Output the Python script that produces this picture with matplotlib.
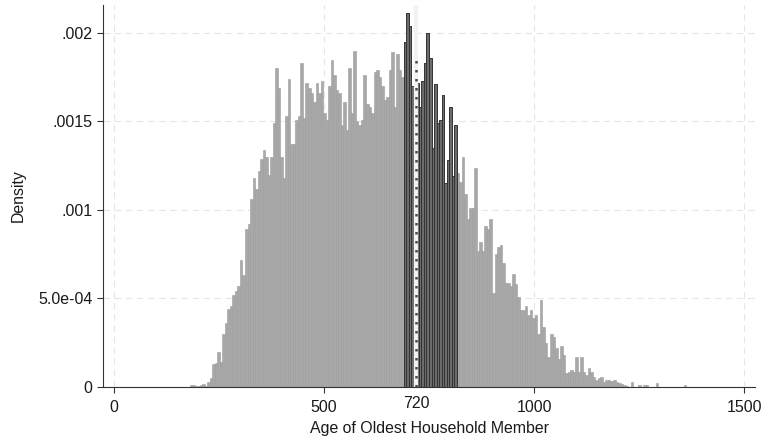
import matplotlib
matplotlib.use("Agg")
import matplotlib.pyplot as plt
import numpy as np

# ---- data ----
bin_start = 180
bin_width = 6
# density values (x 1e-4) per bin
density_e4 = [
    0.1, 0.1, 0.05, 0.05, 0.1, 0.15, 0.05, 0.3, 0.5, 1.3,
    1.35, 1.95, 1.4, 3.0, 3.6, 4.4, 4.6, 5.2, 5.4, 5.7,
    7.2, 6.3, 8.9, 9.2, 10.6, 11.8, 11.2, 12.2, 12.9, 13.4,
    13.0, 12.0, 13.0, 14.9, 18.0, 16.9, 13.0, 11.8, 15.3, 17.4,
    13.7, 13.7, 15.1, 15.3, 18.3, 15.2, 17.2, 16.9, 16.6, 16.1,
    17.2, 16.6, 17.3, 15.5, 15.1, 17.0, 18.5, 17.6, 16.8, 16.6,
    14.8, 16.1, 14.5, 18.0, 15.5, 19.0, 15.0, 14.8, 15.1, 17.6,
    16.0, 15.8, 15.5, 17.8, 17.9, 17.5, 17.0, 16.2, 16.4, 17.9,
    18.9, 15.8, 18.8, 17.9, 17.5, 19.5, 21.1, 20.4, 17.0, 17.0,
    17.2, 15.8, 17.3, 18.3, 20.0, 18.6, 13.5, 17.1, 14.9, 15.1,
    16.5, 11.5, 12.8, 15.8, 11.9, 14.8, 12.1, 11.6, 13.0, 10.9,
    9.5, 10.1, 10.1, 12.4, 7.7, 8.2, 7.7, 9.1, 8.9, 9.5,
    5.3, 7.5, 7.9, 8.0, 7.0, 5.9, 5.9, 5.7, 6.4, 5.8,
    5.1, 4.35, 4.35, 4.6, 4.07, 4.35, 3.9, 4.07, 3.0, 4.9,
    3.4, 2.5, 1.7, 3.0, 2.85, 2.2, 1.6, 2.3, 1.8, 0.77,
    0.87, 0.96, 0.87, 1.7, 0.87, 1.7, 0.87, 0.68, 1.05, 0.87,
    0.58, 0.40, 0.5, 0.58, 0.30, 0.40, 0.40, 0.34, 0.40, 0.30,
    0.2, 0.15, 0.11, 0.05, 0.0, 0.3, 0.0, 0.0, 0.1, 0.0,
    0.1, 0.1, 0.0, 0.0, 0.0, 0.2, 0.0, 0.0, 0.0, 0.0,
    0.0, 0.0, 0.0, 0.0, 0.0, 0.0, 0.1,
]
band_low, band_high = 690, 816      # highlighted (dark) range
cutoff = 720
xticks = [0, 500, 1000, 1500]
yticks = [0, 0.0005, 0.001, 0.0015, 0.002]
ytick_labels = ["0", "5.0e-04", ".001", ".0015", ".002"]
xlabel = "Age of Oldest Household Member"
ylabel = "Density"

# ---- plot ----
plt.rcParams['font.family'] = ['Liberation Sans', 'DejaVu Sans']
fig = plt.figure(figsize=(7.61, 4.42), dpi=100)
ax = fig.add_axes([103/761, 1-387/442, (755-103)/761, (387-5)/442])

dens = np.array(density_e4) * 1e-4
lefts = bin_start + bin_width * np.arange(len(dens))
dark = (lefts >= band_low) & (lefts < band_high)

ax.bar(lefts[~dark], dens[~dark], width=bin_width, align='edge',
       color='#a8a8a8', edgecolor='#9c9c9c', linewidth=0.4, zorder=2)
ax.bar(lefts[dark], dens[dark], width=bin_width, align='edge',
       color='#6c6c6c', edgecolor='#333333', linewidth=0.7, zorder=2)

# cutoff line
ax.axvline(cutoff, color='#f2f2f2', lw=3.0, zorder=3)
ax.axvline(cutoff, ymin=0, ymax=0.87, color='#4a4a4a', lw=1.8,
           linestyle=(0, (1.0, 2.6)), zorder=4)

ax.set_xlim(-26, 1526)
ax.set_ylim(0, 0.002158)

ax.set_xticks(xticks)
ax.set_xticklabels([str(t) for t in xticks])
ax.set_xticks([cutoff], minor=True)
ax.set_xticklabels([str(cutoff)], minor=True)
ax.tick_params(axis='x', which='minor', length=0, pad=6.5, labelsize=11.5, colors='#1a1a1a')
ax.set_yticks(yticks)
ax.set_yticklabels(ytick_labels)
ax.tick_params(axis='x', which='major', length=4, width=0.8, color='#333333',
               labelsize=11.5, labelcolor='#1a1a1a', pad=5.5)
ax.tick_params(axis='y', which='major', length=4.3, width=0.8, color='#333333',
               labelsize=11.5, labelcolor='#1a1a1a', pad=3.4)

ax.grid(True, which='major', linestyle=(0, (6, 4)), color='#e6e6e6', lw=0.8, zorder=0)
ax.set_axisbelow(True)

for s in ['top', 'right']:
    ax.spines[s].set_visible(False)
for s in ['left', 'bottom']:
    ax.spines[s].set_color('#333333')
    ax.spines[s].set_linewidth(0.8)

ax.set_xlabel(xlabel, fontsize=11.4, color='#1a1a1a', labelpad=4)
ax.set_ylabel(ylabel, fontsize=11.4, color='#1a1a1a', labelpad=9)

fig.savefig("out.png", dpi=100)
